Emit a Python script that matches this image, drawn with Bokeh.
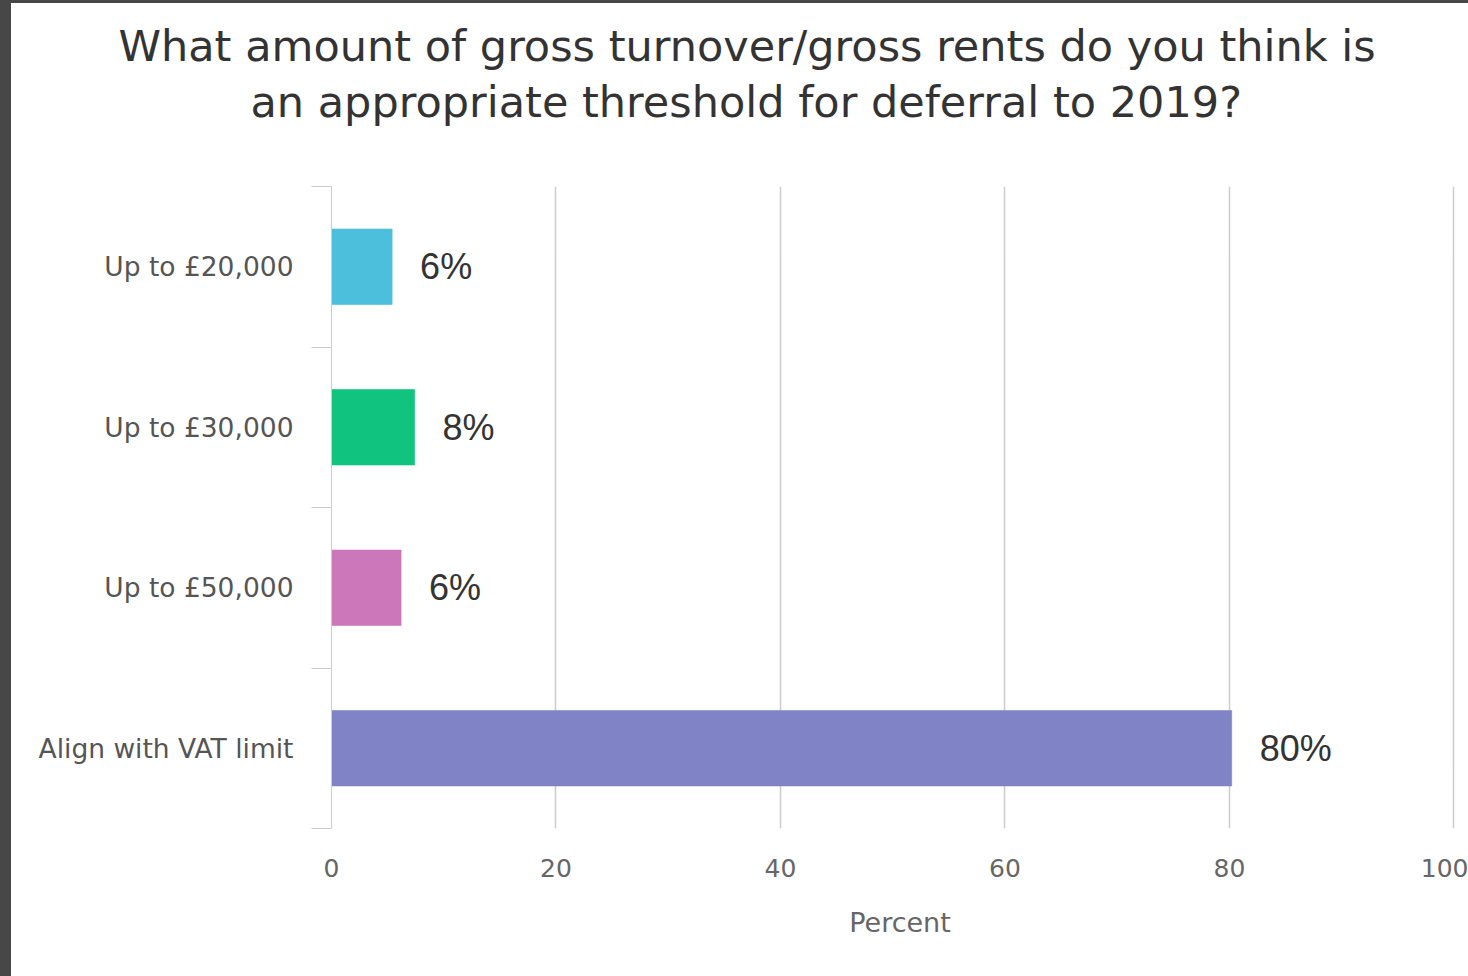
from bokeh.plotting import figure
from bokeh.models import (ColumnDataSource, Range1d, FixedTicker, LabelSet, Title, Spacer)
from bokeh.core.properties import value
from bokeh.layouts import column, row
from bokeh.embed import file_html
from bokeh.resources import INLINE

# ---- data ----
title_lines = ["What amount of gross turnover/gross rents do you think is",
               "an appropriate threshold for deferral to 2019?"]
categories = ["Up to £20,000", "Up to £30,000", "Up to £50,000", "Align with VAT limit"]
values = [5.4, 7.4, 6.2, 80.2]
value_labels = ["6%", "8%", "6%", "80%"]
colors = ["#4bbfdc", "#10c47f", "#cb77b9", "#8084c7"]
x_ticks = [0, 20, 40, 60, 80, 100]
x_title = "Percent"

pos = list(range(len(categories)))
src = ColumnDataSource(dict(y=pos, v=values, lab=value_labels, c=colors, cat=categories))

FONT = "DejaVu Sans"
DARK = "#474747"

p = figure(width=1457, height=973, output_backend="svg", toolbar_location=None,
           x_range=Range1d(0, 101.3), y_range=Range1d(len(categories) - 0.5, -0.5),
           min_border_left=320, min_border_top=183, min_border_bottom=148,
           min_border_right=0, background_fill_color="white", border_fill_color="white",
           outline_line_color=None)

# title: spacer + two lines, each left-anchored so that it is centred on the whole chart
p.add_layout(Title(text=" ", text_font_size="40px", standoff=12), "above")
title_offsets = [-213, -81]
for line, off in reversed(list(zip(title_lines, title_offsets))):
    p.add_layout(Title(text=line, align="left", offset=off, standoff=4,
                       text_font=FONT, text_font_size="43px", text_font_style="normal",
                       text_color="#333333"), "above")

p.hbar(y="y", right="v", left=0, height=0.47, fill_color="c", line_color="c",
       line_alpha=0.6, source=src)

labels = LabelSet(x="v", y="y", text="lab", source=src, x_offset=28,
                  text_baseline="middle", text_align="left",
                  text_font=value("Liberation Sans"), text_font_size=value("36px"),
                  text_color=value("#333333"))
p.add_layout(labels)

# x axis
p.xaxis.ticker = FixedTicker(ticks=x_ticks)
p.xaxis.axis_line_color = None
p.xaxis.major_tick_line_color = None
p.xaxis.minor_tick_line_color = None
p.xaxis.major_label_text_font = FONT
p.xaxis.major_label_text_font_size = "25px"
p.xaxis.major_label_text_color = "#666666"
p.xaxis.major_label_standoff = 24
p.xaxis.axis_label = x_title
p.xaxis.axis_label_text_font = FONT
p.xaxis.axis_label_text_font_size = "27px"
p.xaxis.axis_label_text_font_style = "normal"
p.xaxis.axis_label_text_color = "#666666"
p.xaxis.axis_label_standoff = 27

# y axis
bounds = [i - 0.5 for i in range(len(categories) + 1)]
p.yaxis.ticker = FixedTicker(ticks=pos, minor_ticks=bounds)
p.yaxis.major_label_overrides = {i: c for i, c in enumerate(categories)}
p.yaxis.major_tick_line_color = None
p.yaxis.minor_tick_out = 20
p.yaxis.minor_tick_in = 0
p.yaxis.minor_tick_line_color = "#cccccc"
p.yaxis.axis_line_color = "#cccccc"
p.yaxis.major_label_standoff = 18
p.yaxis.major_label_text_font = FONT
p.yaxis.major_label_text_font_size = "26.5px"
p.yaxis.major_label_text_color = "#555555"

# grid
p.xgrid.ticker = FixedTicker(ticks=x_ticks[1:])
p.xgrid.grid_line_color = "#cccccc"
p.xgrid.grid_line_width = 1.5
p.ygrid.visible = False

top_strip = Spacer(width=1468, height=3, styles={"background-color": DARK})
left_strip = Spacer(width=11, height=973, styles={"background-color": DARK})
layout = column(top_strip, row(left_strip, p, spacing=0), spacing=0)

open("out.html", "w").write(file_html(layout, INLINE))
